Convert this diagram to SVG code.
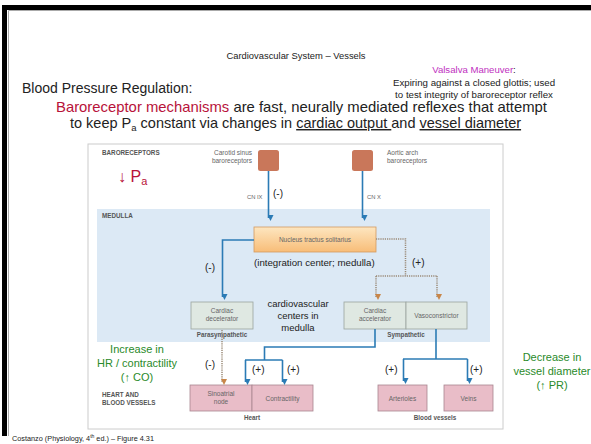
<svg xmlns="http://www.w3.org/2000/svg" width="591" height="444" viewBox="0 0 591 444">
<defs>
<style>
text{font-family:"Liberation Sans",Arial,sans-serif}
.sm{font-size:6.5px;fill:#666}
.bd{font-size:6.3px;font-weight:bold;fill:#555}
.pm{font-size:10px;fill:#222}
.gr{font-size:11px;fill:#2a8a2a}
.blue{stroke:#2b7bb5;stroke-width:1.6;fill:none}
.dash{stroke:#9a8a78;stroke-width:1.5;fill:none;stroke-dasharray:1.2 1}
.gbox{fill:#dfe8e2;stroke:#9aa49e;stroke-width:0.8}
.pbox{fill:#e9bdc8;stroke:#a88690;stroke-width:0.8}
.rec{fill:#c9775a}
.bar{fill:#000;stroke:none}
</style>
<marker id="ab" markerWidth="6" markerHeight="6" refX="3" refY="5" orient="auto" markerUnits="userSpaceOnUse" viewBox="0 0 6 6"><path d="M0,0 L6,0 L3,6 z" fill="#2b7bb5" transform="rotate(-90 3 3)"/></marker>
<marker id="ao" markerWidth="6" markerHeight="6" refX="3" refY="5" orient="auto" markerUnits="userSpaceOnUse" viewBox="0 0 6 6"><path d="M0,0 L6,0 L3,6 z" fill="#c8864a" transform="rotate(-90 3 3)"/></marker>
<linearGradient id="ng" x1="0" y1="0" x2="0" y2="1"><stop offset="0" stop-color="#fde6c0"/><stop offset="1" stop-color="#f8bd78"/></linearGradient>
</defs>
<rect x="0" y="0" width="591" height="444" fill="#ffffff"/>
<g id="slide-frame">
<rect class="bar" x="2" y="5" width="589" height="5"/>
<rect class="bar" x="2" y="5" width="5" height="431"/>
<path d="M8.5,436 V10.5 H591" stroke="#aaaaaa" stroke-width="1" fill="none"/>
</g>
<g id="header">
<text x="296" y="59" font-size="9.4" text-anchor="middle" fill="#222">Cardiovascular System – Vessels</text>
<text x="474" y="73" font-size="9.6" text-anchor="middle" fill="#c030c0">Valsalva Maneuver<tspan fill="#222">:</tspan></text>
<text x="474" y="86" font-size="9.7" text-anchor="middle" fill="#222">Expiring against a closed glottis; used</text>
<text x="474" y="98" font-size="9.7" text-anchor="middle" fill="#222">to test integrity of baroreceptor reflex</text>
<text x="22" y="93" font-size="14" fill="#222">Blood Pressure Regulation:</text>
<text x="56" y="112" font-size="14.5" fill="#222" textLength="491" lengthAdjust="spacingAndGlyphs"><tspan fill="#b8123a">Baroreceptor mechanisms</tspan> are fast, neurally mediated reflexes that attempt</text>
<text x="70" y="128" font-size="14.5" fill="#222">to keep P<tspan font-size="9.5" dy="3">a</tspan><tspan dy="-3"> constant via changes in </tspan><tspan text-decoration="underline">cardiac output </tspan>and <tspan text-decoration="underline">vessel diameter</tspan></text>
</g>
<g id="figure">
<rect x="88" y="144" width="415" height="285" fill="#fff" stroke="#ccc" stroke-width="1"/>
<rect x="97" y="209" width="393" height="133" fill="#dce9f5"/>
<text x="102" y="155" class="bd">BARORECEPTORS</text>
<text x="102" y="218" class="bd">MEDULLA</text>
<text x="102" y="397" class="bd">HEART AND</text>
<text x="102" y="405" class="bd">BLOOD VESSELS</text>
<text x="118" y="182" font-size="16" fill="#b8123a">↓ P<tspan font-size="11" dy="3">a</tspan></text>
</g>
<g id="carotid">
<rect class="rec" x="258" y="150" width="21" height="21" rx="2.5"/>
<text x="252" y="155" class="sm" text-anchor="end">Carotid sinus</text>
<text x="252" y="163" class="sm" text-anchor="end">baroreceptors</text>
</g>
<g id="aortic">
<rect class="rec" x="352" y="150" width="21" height="21" rx="2.5"/>
<text x="387" y="155" class="sm">Aortic arch</text>
<text x="387" y="163" class="sm">baroreceptors</text>
</g>
<g id="nucleus">
<rect x="254" y="227" width="122" height="25" fill="url(#ng)" stroke="#d39a60" stroke-width="0.8"/>
<text x="315" y="242" class="sm" text-anchor="middle" fill="#7a5a30">Nucleus tractus solitarius</text>
<text x="254" y="266" font-size="9.7" fill="#222">(integration center; medulla)</text>
</g>
<g id="decelerator">
<rect class="gbox" x="191" y="302" width="62" height="27"/>
<text x="222" y="313" class="sm" text-anchor="middle">Cardiac</text>
<text x="222" y="321" class="sm" text-anchor="middle">decelerator</text>
<text x="222" y="337" class="bd" text-anchor="middle">Parasympathetic</text>
</g>
<g id="sympathetic">
<rect class="gbox" x="344" y="302" width="62" height="27"/>
<rect class="gbox" x="406" y="302" width="61" height="27"/>
<text x="375" y="313" class="sm" text-anchor="middle">Cardiac</text>
<text x="375" y="321" class="sm" text-anchor="middle">accelerator</text>
<text x="436.5" y="317.5" class="sm" text-anchor="middle">Vasoconstrictor</text>
<text x="406" y="337" class="bd" text-anchor="middle">Sympathetic</text>
</g>
<g id="centers">
<text x="298" y="307" font-size="9.5" text-anchor="middle" fill="#222">cardiovascular</text>
<text x="298" y="319" font-size="9.5" text-anchor="middle" fill="#222">centers in</text>
<text x="298" y="331" font-size="9.5" text-anchor="middle" fill="#222">medulla</text>
</g>
<g id="heart">
<rect class="pbox" x="190" y="385" width="62" height="26"/>
<rect class="pbox" x="252" y="385" width="61" height="26"/>
<text x="221" y="396" class="sm" text-anchor="middle">Sinoatrial</text>
<text x="221" y="404" class="sm" text-anchor="middle">node</text>
<text x="282.5" y="400.5" class="sm" text-anchor="middle">Contractility</text>
<text x="252" y="420" class="bd" text-anchor="middle">Heart</text>
</g>
<g id="vessels">
<rect class="pbox" x="378" y="385" width="49" height="26"/>
<rect class="pbox" x="444" y="385" width="49" height="26"/>
<text x="402.5" y="400.5" class="sm" text-anchor="middle">Arterioles</text>
<text x="468.5" y="400.5" class="sm" text-anchor="middle">Veins</text>
<text x="435" y="420" class="bd" text-anchor="middle">Blood vessels</text>
</g>
<g id="notes">
<text x="137" y="353" class="gr" text-anchor="middle">Increase in</text>
<text x="137" y="367" class="gr" text-anchor="middle">HR / contractility</text>
<text x="137" y="381" class="gr" text-anchor="middle">(↑ CO)</text>
<text x="552" y="361" class="gr" text-anchor="middle">Decrease in</text>
<text x="552" y="375" class="gr" text-anchor="middle">vessel diameter</text>
<text x="552" y="389" class="gr" text-anchor="middle">(↑ PR)</text>
</g>
<g id="connectors">
<path class="blue" d="M268.5,171 V218" marker-end="url(#ab)"/>
<path class="blue" d="M362.5,171 V218" marker-end="url(#ab)"/>
<path class="blue" d="M254,240 H222.5 V297" marker-end="url(#ab)"/>
<path class="dash" d="M376,239 H405.5 V276"/>
<path class="dash" d="M376,276 H437"/>
<path class="dash" d="M376,276 V297" marker-end="url(#ao)"/>
<path class="dash" d="M437,276 V297" marker-end="url(#ao)"/>
<path class="dash" d="M222,330 V382" marker-end="url(#ao)"/>
<path class="blue" d="M375,329 V347 H264.5 V360"/>
<path class="blue" d="M245,360 H282.5"/>
<path class="blue" d="M245.5,360 V382" marker-end="url(#ab)"/>
<path class="blue" d="M282.5,360 V382" marker-end="url(#ab)"/>
<path class="blue" d="M436,329 V359"/>
<path class="blue" d="M403,359 H467.5"/>
<path class="blue" d="M403.5,359 V381" marker-end="url(#ab)"/>
<path class="blue" d="M467.5,359 V381" marker-end="url(#ab)"/>
</g>
<g id="labels">
<text x="247" y="199" font-size="5.8" fill="#666">CN IX</text>
<text x="273" y="197" class="pm">(-)</text>
<text x="367" y="199" font-size="5.8" fill="#666">CN X</text>
<text x="205" y="271" class="pm">(-)</text>
<text x="412" y="266" class="pm">(+)</text>
<text x="205" y="368" class="pm">(-)</text>
<text x="252" y="373" class="pm">(+)</text>
<text x="287" y="373" class="pm">(+)</text>
<text x="385" y="373" class="pm">(+)</text>
<text x="470" y="373" class="pm">(+)</text>
</g>
<text x="12" y="441" font-size="7.3" fill="#222">Costanzo (Physiology, 4<tspan font-size="5" dy="-3">th</tspan><tspan dy="3"> ed.) – Figure 4.31</tspan></text>
</svg>
